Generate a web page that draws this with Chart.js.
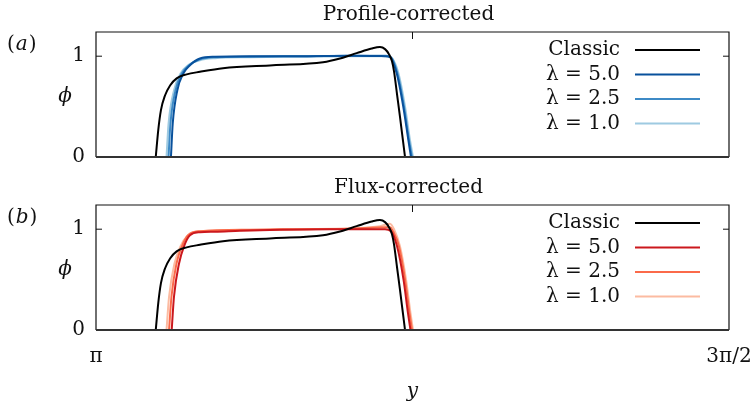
<!DOCTYPE html>
<html>
<head>
<meta charset="utf-8">
<script src="https://cdn.jsdelivr.net/npm/chart.js@4.4.1/dist/chart.umd.min.js"></script>
<style>
  html, body { margin: 0; padding: 0; background: #fff; }
  #wrap { position: relative; width: 756px; height: 406px; }
  #chartA { position: absolute; left: 0; top: 0; }
  #chartB { position: absolute; left: 0; top: 173px; }
</style>
</head>
<body>
<div id="wrap">
  <canvas id="chartA" width="756" height="170"></canvas>
  <canvas id="chartB" width="756" height="233"></canvas>
</div>
<script>
/* values; x is in units of pi */
const xTickValues = [1, 1.5];
const xTickLabels = ['π', '3π/2'];
const xMinorTicks = [1.25];
const yTickValues = [0, 1];
const yTickLabels = ['0', '1'];
const seriesLabels = ['Classic', 'λ = 5.0', 'λ = 2.5', 'λ = 1.0'];
const panelTitles = ['Profile-corrected', 'Flux-corrected'];
const panelTags = ['a', 'b'];

const classicX   = [1.0472, 1.0492, 1.0513, 1.0545, 1.0585, 1.0637, 1.0716, 1.0821, 1.1003, 1.1398, 1.1793, 1.1927, 1.2059, 1.2178, 1.2243, 1.2283, 1.2314, 1.2338, 1.2354, 1.2378, 1.2401, 1.2425, 1.2441];
const classicPhi = [0, 0.27, 0.465, 0.61, 0.71, 0.78, 0.82, 0.845, 0.88, 0.91, 0.94, 0.977, 1.03, 1.076, 1.09, 1.07, 1.02, 0.95, 0.85, 0.62, 0.40, 0.16, 0];

const prof50X   = [1.0592, 1.0606, 1.0642, 1.0690, 1.0742, 1.0821, 1.0940, 1.1216, 1.1611, 1.2006, 1.2283, 1.2322, 1.2375, 1.2427, 1.2467, 1.2488];
const prof50Phi = [0, 0.33, 0.66, 0.83, 0.91, 0.977, 0.995, 1.0, 1.0, 1.005, 1.0, 0.99, 0.83, 0.5, 0.17, 0];
const prof25X   = [1.0573, 1.0588, 1.0628, 1.0679, 1.0735, 1.0821, 1.0940, 1.1216, 1.1611, 1.2006, 1.2291, 1.2330, 1.2381, 1.2433, 1.2472, 1.2496];
const prof25Phi = [0, 0.33, 0.66, 0.83, 0.91, 0.97, 0.99, 0.995, 1.0, 1.005, 1.005, 0.99, 0.83, 0.5, 0.17, 0];
const prof10X   = [1.0557, 1.0573, 1.0616, 1.0669, 1.0727, 1.0821, 1.0940, 1.1216, 1.1611, 1.2006, 1.2299, 1.2338, 1.2389, 1.2441, 1.2480, 1.2504];
const prof10Phi = [0, 0.33, 0.66, 0.83, 0.91, 0.96, 0.98, 0.99, 0.995, 1.0, 1.0, 0.98, 0.83, 0.5, 0.17, 0];

const flux50X   = [1.0598, 1.0616, 1.0656, 1.0695, 1.0742, 1.0821, 1.0940, 1.1137, 1.1453, 1.1848, 1.2283, 1.2330, 1.2378, 1.2429, 1.2464, 1.2484];
const flux50Phi = [0, 0.33, 0.66, 0.83, 0.94, 0.97, 0.975, 0.985, 0.995, 1.0, 1.0, 0.98, 0.83, 0.5, 0.17, 0];
const flux25X   = [1.0577, 1.0596, 1.0636, 1.0679, 1.0727, 1.0821, 1.1216, 1.1611, 1.2006, 1.2291, 1.2322, 1.2346, 1.2393, 1.2441, 1.2476, 1.2496];
const flux25Phi = [0, 0.33, 0.66, 0.83, 0.94, 0.98, 0.995, 1.0, 1.005, 1.02, 1.02, 0.98, 0.83, 0.5, 0.17, 0];
const flux10X   = [1.0557, 1.0577, 1.0620, 1.0667, 1.0719, 1.0821, 1.1216, 1.1611, 1.2006, 1.2243, 1.2322, 1.2354, 1.2401, 1.2449, 1.2484, 1.2504];
const flux10Phi = [0, 0.33, 0.66, 0.83, 0.93, 0.98, 0.99, 1.0, 1.01, 1.03, 1.055, 1.0, 0.83, 0.5, 0.17, 0];

const blues = ['#08519c', '#3d8ac6', '#9ecae1'];
const reds  = ['#cb181d', '#fb6a4a', '#fcbba1'];

const SERIF = "'DejaVu Serif', serif";
const INK = '#111';

function pts(xs, ys) {
    return xs.map((x, i) => ({ x: x, y: ys[i] }));
}

function line(label, color, data) {
    return {
        label: label,
        data: data,
        borderColor: color,
        backgroundColor: color,
        borderWidth: 2,
        pointRadius: 0,
        fill: false,
        cubicInterpolationMode: 'monotone'
    };
}

/* frame, inner ticks, legend and labels */
const decor = {
    id: 'decor',
    afterDatasetsDraw(chart, args, opts) {
        const ctx = chart.ctx;
        const a = chart.chartArea;
        const xs = chart.scales.x, ys = chart.scales.y;
        ctx.save();

        // box
        ctx.strokeStyle = INK;
        ctx.lineWidth = 1.2;
        ctx.beginPath();
        ctx.moveTo(a.left, a.bottom);
        ctx.lineTo(a.left, a.top);
        ctx.lineTo(a.right, a.top);
        ctx.lineTo(a.right, a.bottom);
        ctx.stroke();
        ctx.strokeStyle = '#333';
        ctx.lineWidth = 2;
        ctx.beginPath();
        ctx.moveTo(a.left, a.bottom);
        ctx.lineTo(a.right, a.bottom);
        ctx.stroke();

        // inward ticks
        ctx.strokeStyle = INK;
        ctx.lineWidth = 1;
        yTickValues.forEach(v => {
            if (v === 0) return;
            const py = ys.getPixelForValue(v);
            ctx.beginPath();
            ctx.moveTo(a.left, py); ctx.lineTo(a.left + 6, py);
            ctx.moveTo(a.right, py); ctx.lineTo(a.right - 6, py);
            ctx.stroke();
        });
        xMinorTicks.forEach(v => {
            const px = xs.getPixelForValue(v);
            ctx.beginPath();
            ctx.moveTo(px, a.top); ctx.lineTo(px, a.top + 7);
            ctx.stroke();
        });

        // legend: text on the left, sample line on the right
        ctx.font = '20px ' + SERIF;
        ctx.fillStyle = INK;
        ctx.textBaseline = 'middle';
        chart.data.datasets.forEach((ds, i) => {
            const y = a.top + 18 + i * 24.5;
            ctx.textAlign = 'right';
            ctx.fillText(ds.label, a.right - 109, y);
            ctx.strokeStyle = ds.borderColor;
            ctx.lineWidth = 2;
            ctx.beginPath();
            ctx.moveTo(a.right - 94, y);
            ctx.lineTo(a.right - 29, y);
            ctx.stroke();
        });

        // panel title
        ctx.textAlign = 'center';
        ctx.font = '20px ' + SERIF;
        ctx.fillText(opts.title, (a.left + a.right) / 2 - 4, a.top - 17);

        // phi label
        ctx.font = 'italic 20px ' + SERIF;
        ctx.fillText('ϕ', a.left - 31, (a.top + a.bottom) / 2 + 2);

        // (a) / (b)
        ctx.textAlign = 'left';
        ctx.font = '20px ' + SERIF;
        let x0 = a.left - 89;
        const ty = a.top + 13;
        ctx.fillText('(', x0, ty);
        x0 += ctx.measureText('(').width + 1;
        ctx.font = 'italic 20px ' + SERIF;
        ctx.fillText(opts.tag, x0, ty);
        x0 += ctx.measureText(opts.tag).width + 1;
        ctx.font = '20px ' + SERIF;
        ctx.fillText(')', x0, ty);

        // x axis name
        if (opts.xName) {
            ctx.textAlign = 'center';
            ctx.font = 'italic 20px ' + SERIF;
            ctx.fillText(opts.xName, (a.left + a.right) / 2, a.bottom + 62);
        }
        ctx.restore();
    }
};

function makeChart(id, datasets, idx, showX) {
    return new Chart(document.getElementById(id), {
        type: 'line',
        data: { datasets: datasets },
        plugins: [decor],
        options: {
            responsive: false,
            animation: false,
            layout: { padding: { top: 32, right: 27, bottom: showX ? 0 : 13, left: 0 } },
            plugins: {
                legend: { display: false },
                tooltip: { enabled: false },
                decor: { title: panelTitles[idx], tag: panelTags[idx], xName: showX ? 'y' : '' }
            },
            scales: {
                x: {
                    type: 'linear',
                    min: 1, max: 1.5,
                    display: showX,
                    afterBuildTicks: s => { s.ticks = xTickValues.map(v => ({ value: v })); },
                    afterFit: s => {
                        s.height = showX ? 76 : 0;
                        s.paddingLeft = 0;
                        s.paddingRight = 0;
                    },
                    grid: { display: false, drawTicks: false },
                    border: { display: false },
                    ticks: {
                        padding: 15,
                        maxRotation: 0,
                        color: INK,
                        font: { family: SERIF, size: 20 },
                        callback: v => xTickLabels[xTickValues.indexOf(v)]
                    }
                },
                y: {
                    min: 0, max: 1.24,
                    afterBuildTicks: s => { s.ticks = yTickValues.map(v => ({ value: v })); },
                    afterFit: s => {
                        s.width = 96;
                        s.paddingTop = 0;
                        s.paddingBottom = 0;
                    },
                    grid: { display: false, drawTicks: false },
                    border: { display: false },
                    ticks: {
                        padding: 11,
                        color: INK,
                        font: { family: SERIF, size: 20 },
                        callback: v => yTickLabels[yTickValues.indexOf(v)]
                    }
                }
            }
        }
    });
}

makeChart('chartA', [
    line(seriesLabels[0], '#000000', pts(classicX, classicPhi)),
    line(seriesLabels[1], blues[0], pts(prof50X, prof50Phi)),
    line(seriesLabels[2], blues[1], pts(prof25X, prof25Phi)),
    line(seriesLabels[3], blues[2], pts(prof10X, prof10Phi))
], 0, false);

makeChart('chartB', [
    line(seriesLabels[0], '#000000', pts(classicX, classicPhi)),
    line(seriesLabels[1], reds[0], pts(flux50X, flux50Phi)),
    line(seriesLabels[2], reds[1], pts(flux25X, flux25Phi)),
    line(seriesLabels[3], reds[2], pts(flux10X, flux10Phi))
], 1, true);
</script>
</body>
</html>
